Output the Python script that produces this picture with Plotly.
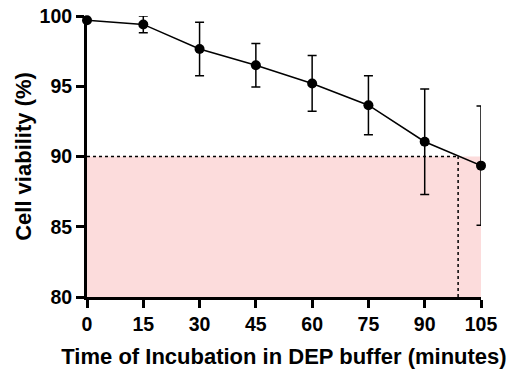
import plotly.graph_objects as go

# Incubation time (minutes) and mean cell viability (%) with SD
time_min = [0, 15, 30, 45, 60, 75, 90, 105]
viability = [99.7, 99.4, 97.65, 96.5, 95.2, 93.65, 91.05, 89.35]
viability_sd = [0.0, 0.6, 1.9, 1.55, 1.98, 2.1, 3.75, 4.25]

threshold = 90          # viability threshold (%)
threshold_time = 98.9   # time at which viability crosses the threshold
y_floor = 80

x_ticks = [0, 15, 30, 45, 60, 75, 90, 105]
y_ticks = [80, 85, 90, 95, 100]

font_family = "Arial, Liberation Sans, sans-serif"

fig = go.Figure()

fig.add_trace(go.Scatter(
    x=time_min, y=viability,
    mode="lines+markers",
    line=dict(color="black", width=1.5),
    marker=dict(color="black", size=10),
    error_y=dict(type="data", array=viability_sd, visible=True,
                 color="black", thickness=1.5, width=4.5),
    cliponaxis=False,
    showlegend=False,
))

# shaded region below the threshold
fig.add_shape(type="rect", xref="x", yref="y",
              x0=time_min[0], x1=time_min[-1], y0=y_floor, y1=threshold,
              fillcolor="#fcdcdc", line=dict(width=0), layer="below")
# dashed threshold guides
fig.add_shape(type="line", xref="x", yref="y",
              x0=time_min[0], x1=threshold_time, y0=threshold, y1=threshold,
              line=dict(color="black", width=1.5, dash="dot"), layer="below")
fig.add_shape(type="line", xref="x", yref="y",
              x0=threshold_time, x1=threshold_time, y0=y_floor, y1=threshold,
              line=dict(color="black", width=1.5, dash="dot"), layer="below")

axis_common = dict(
    showgrid=False, zeroline=False, automargin=False,
    showline=True, linecolor="black", linewidth=3,
    ticks="outside", ticklen=8, tickwidth=3, tickcolor="black",
    tickfont=dict(family=font_family, size=19.5, color="black"),
)

fig.update_xaxes(
    range=[0, 105], tickvals=x_ticks,
    ticktext=[f"<b>{v}</b>" for v in x_ticks],
    title=dict(text="<b>Time of Incubation in DEP buffer (minutes)</b>",
               font=dict(family=font_family, size=22, color="black"),
               standoff=15),
    **axis_common,
)
fig.update_yaxes(
    range=[80, 100], tickvals=y_ticks,
    ticktext=[f"<b>{v}</b>" for v in y_ticks],
    title=dict(text="<b>Cell viability (%)</b>",
               font=dict(family=font_family, size=22, color="black"),
               standoff=2),
    **axis_common,
)

fig.update_layout(
    width=507, height=369,
    margin=dict(l=87, r=26, t=16, b=72),
    plot_bgcolor="white", paper_bgcolor="white",
)

fig.write_html("out.html")
